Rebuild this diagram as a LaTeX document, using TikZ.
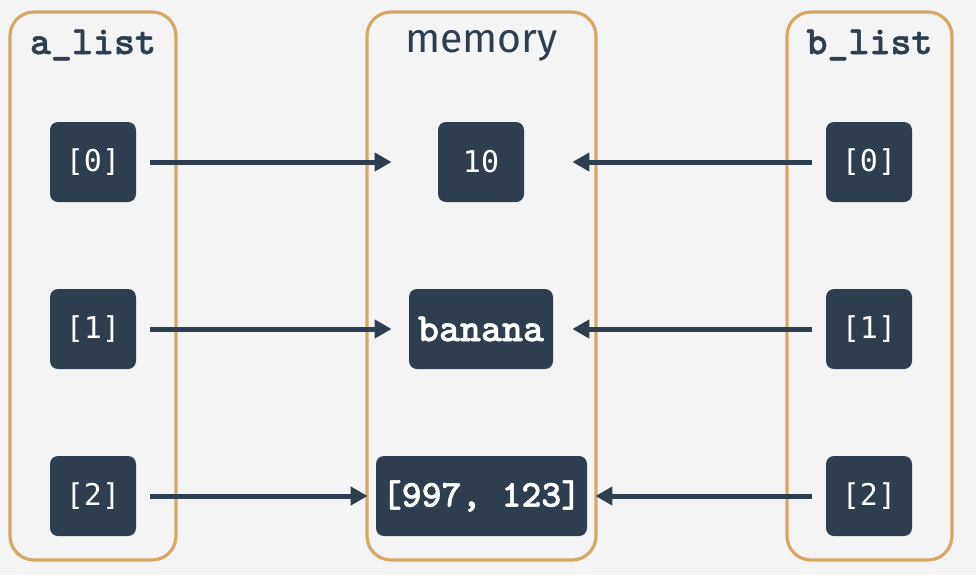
\documentclass[tikz,border=0pt]{standalone}
\usepackage{fontspec}
\usetikzlibrary{arrows.meta}
\setmainfont{Fira Sans}
\newfontfamily\codefont{lmmonolt10-bold}[Extension=.otf, FakeBold=1.2]
\newfontfamily\cellfont{DejaVu Sans Mono}
\definecolor{bgcol}{HTML}{F4F4F4}
\definecolor{navy}{HTML}{2E3E4F}
\definecolor{tan}{HTML}{D4A866}
\tikzset{
  panel/.style={draw=tan, line width=1.6pt, rounded corners=12pt, minimum width=#1, minimum height=274pt},
  title/.style={text=navy, font=\codefont\fontsize{20}{24}\selectfont},
  cell/.style={fill=navy, rounded corners=4pt, text=white, minimum height=40pt, minimum width=43pt, inner sep=0pt, font=\cellfont\fontsize{15}{18}\selectfont},
  boldcell/.style={cell, font=\codefont\fontsize{20}{24}\selectfont},
  link/.style={draw=navy, line width=2.5pt, -{Triangle[length=8.5pt,width=9pt]}}
}
\begin{document}
\begin{tikzpicture}[x=0.5pt, y=-0.5pt]
  \useasboundingbox[fill=bgcol] (0,0) rectangle (976,575);

  % Define the panels
  \node[panel=83pt] (left) at (93,286) {};
  \node[panel=114.5pt] (mem) at (481.5,286) {};
  \node[panel=82.5pt] (right) at (869.5,286) {};

  % Titles
  \node[title] (ltitle) at (93,45) {a\_list};
  \node[text=navy, font=\fontsize{20.5}{24}\selectfont] (mtitle) at (481.5,46) {memory};
  \node[title] (rtitle) at (869.5,45) {b\_list};

  % Define the cells
  \node[cell] (a0) at (93,162) {[0]};
  \node[cell] (a1) at (93,329) {[1]};
  \node[cell] (a2) at (93,496) {[2]};

  \node[cell] (m0) at (481,162) {10};
  \node[boldcell, minimum width=72pt] (m1) at (481,329) {banana};
  \node[boldcell, minimum width=105.5pt, font=\codefont\fontsize{19}{23}\selectfont] (m2) at (481.5,496) {[997, 123]};

  \node[cell] (b0) at (869,162) {[0]};
  \node[cell] (b1) at (869,329) {[1]};
  \node[cell] (b2) at (869,496) {[2]};

  % Draw arrows from both lists into memory
  \draw[link, shorten <=7pt, shorten >=23pt] (a0) -- (m0);
  \draw[link, shorten <=7pt, shorten >=8.5pt] (a1) -- (m1);
  \draw[link, shorten <=7pt, shorten >=4pt] (a2) -- (m2);

  \draw[link, shorten <=7pt, shorten >=24pt] (b0) -- (m0);
  \draw[link, shorten <=7pt, shorten >=9.5pt] (b1) -- (m1);
  \draw[link, shorten <=7pt, shorten >=4pt] (b2) -- (m2);
\end{tikzpicture}
\end{document}
